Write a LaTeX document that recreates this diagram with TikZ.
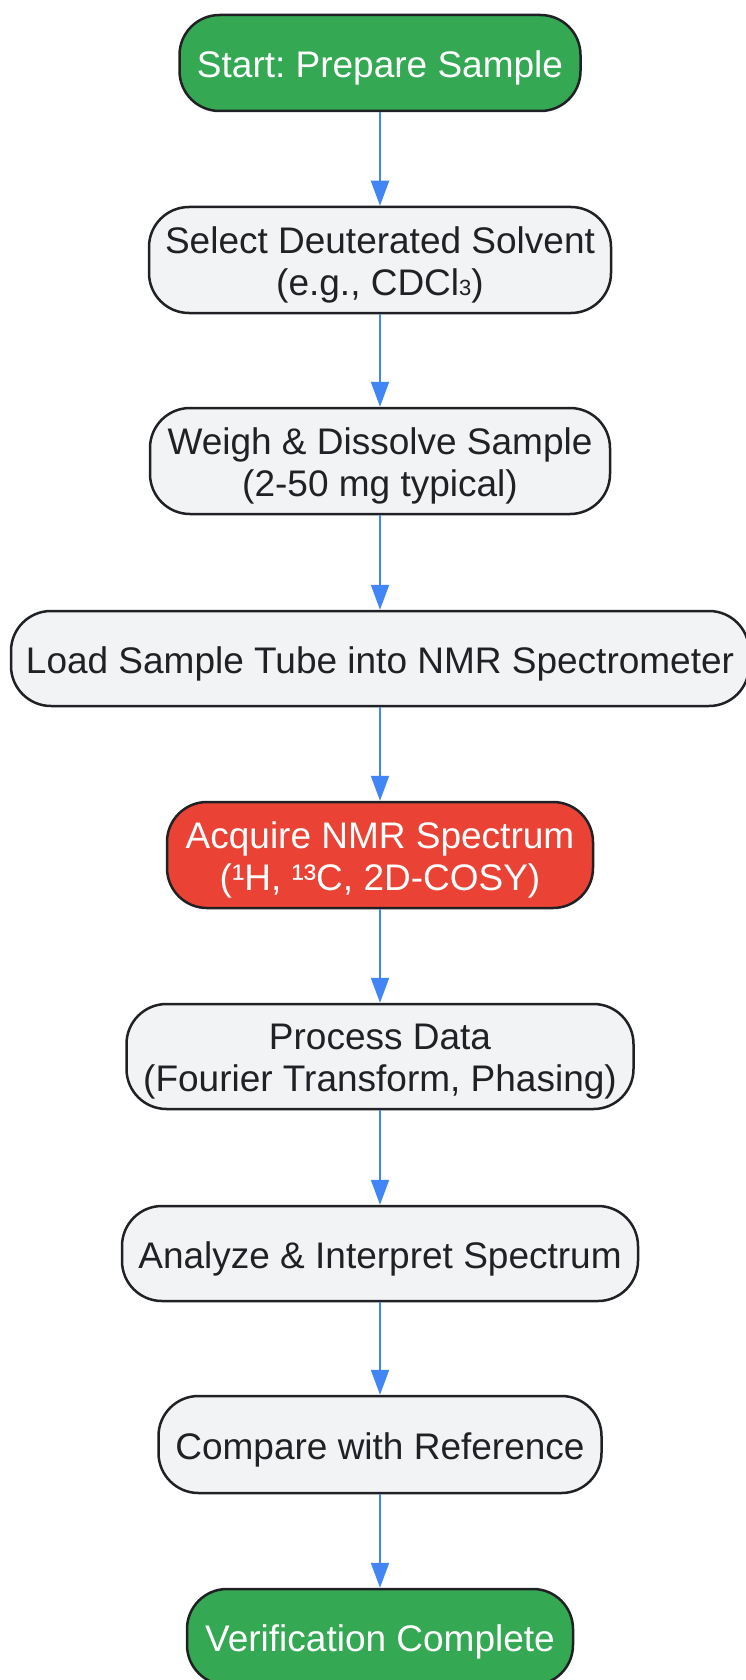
\documentclass[tikz,border=0pt]{standalone}
\usepackage{fontspec}
\setmainfont{Liberation Sans}
\usetikzlibrary{arrows.meta}
\definecolor{gfill}{HTML}{34A853}
\definecolor{rfill}{HTML}{EA4335}
\definecolor{nfill}{HTML}{F1F3F4}
\definecolor{edge}{HTML}{202124}
\definecolor{arr}{HTML}{4285F4}
\newcommand{\subthree}{{\fontsize{22}{22}\selectfont 3}}
\frenchspacing
\tikzset{
  box/.style={draw=edge, line width=2.5pt, rectangle, rounded corners=40pt, fill=nfill, inner sep=0pt},
  greenbox/.style={box, fill=gfill},
  redbox/.style={box, fill=rfill},
  txt/.style={text=edge, align=center, inner sep=0pt, font=\fontsize{37}{42}\selectfont},
  wtxt/.style={txt, text=white},
  flow/.style={draw=arr, line width=2pt, -{Triangle[width=18pt,length=25pt]}}
}
\begin{document}
\begin{tikzpicture}[x=1pt,y=-1pt]
\useasboundingbox (0,0) rectangle (746,1680);
\fill[white] (0,0) rectangle (746,1680);
\node[greenbox, minimum width=401pt, minimum height=96pt] (start) at (380,63) {};
\node[box, minimum width=462pt, minimum height=106pt] (select) at (380,260) {};
\node[box, minimum width=460pt, minimum height=106pt] (weigh) at (380,461) {};
\node[box, minimum width=738pt, minimum height=95pt] (load) at (380,658.5) {};
\node[redbox, minimum width=426pt, minimum height=106pt] (acq) at (380,855) {};
\node[box, minimum width=507pt, minimum height=105pt] (proc) at (380,1056.5) {};
\node[box, minimum width=516pt, minimum height=95pt] (anal) at (380,1253.5) {};
\node[box, minimum width=443pt, minimum height=97pt] (comp) at (380,1444.5) {};
\node[greenbox, minimum width=386pt, minimum height=96pt] (verif) at (380,1637) {};
\node[wtxt] (startt) at ([yshift=-5pt]start.center) {Start: Prepare Sample};
\node[txt] (selectt) at ([yshift=-5pt]select.center) {Select Deuterated Solvent\\(e.g., CDCl\subthree)};
\node[txt] (weight) at ([yshift=-5pt]weigh.center) {Weigh \& Dissolve Sample\\(2-50 mg typical)};
\node[txt] (loadt) at ([yshift=-5pt]load.center) {Load Sample Tube into NMR Spectrometer};
\node[wtxt] (acqt) at ([yshift=-5pt]acq.center) {Acquire NMR Spectrum\\(¹H, ¹³C, 2D-COSY)};
\node[txt] (proct) at ([yshift=-5pt]proc.center) {Process Data\\(Fourier Transform, Phasing)};
\node[txt] (analt) at ([yshift=-5pt]anal.center) {Analyze \& Interpret Spectrum};
\node[txt] (compt) at ([yshift=-5pt]comp.center) {Compare with Reference};
\node[wtxt] (veritt) at ([yshift=-5pt]verif.center) {Verification Complete};
\draw[flow] (start) -- (select);
\draw[flow] (select) -- (weigh);
\draw[flow] (weigh) -- (load);
\draw[flow] (load) -- (acq);
\draw[flow] (acq) -- (proc);
\draw[flow] (proc) -- (anal);
\draw[flow] (anal) -- (comp);
\draw[flow] (comp) -- (verif);
\end{tikzpicture}
\end{document}
